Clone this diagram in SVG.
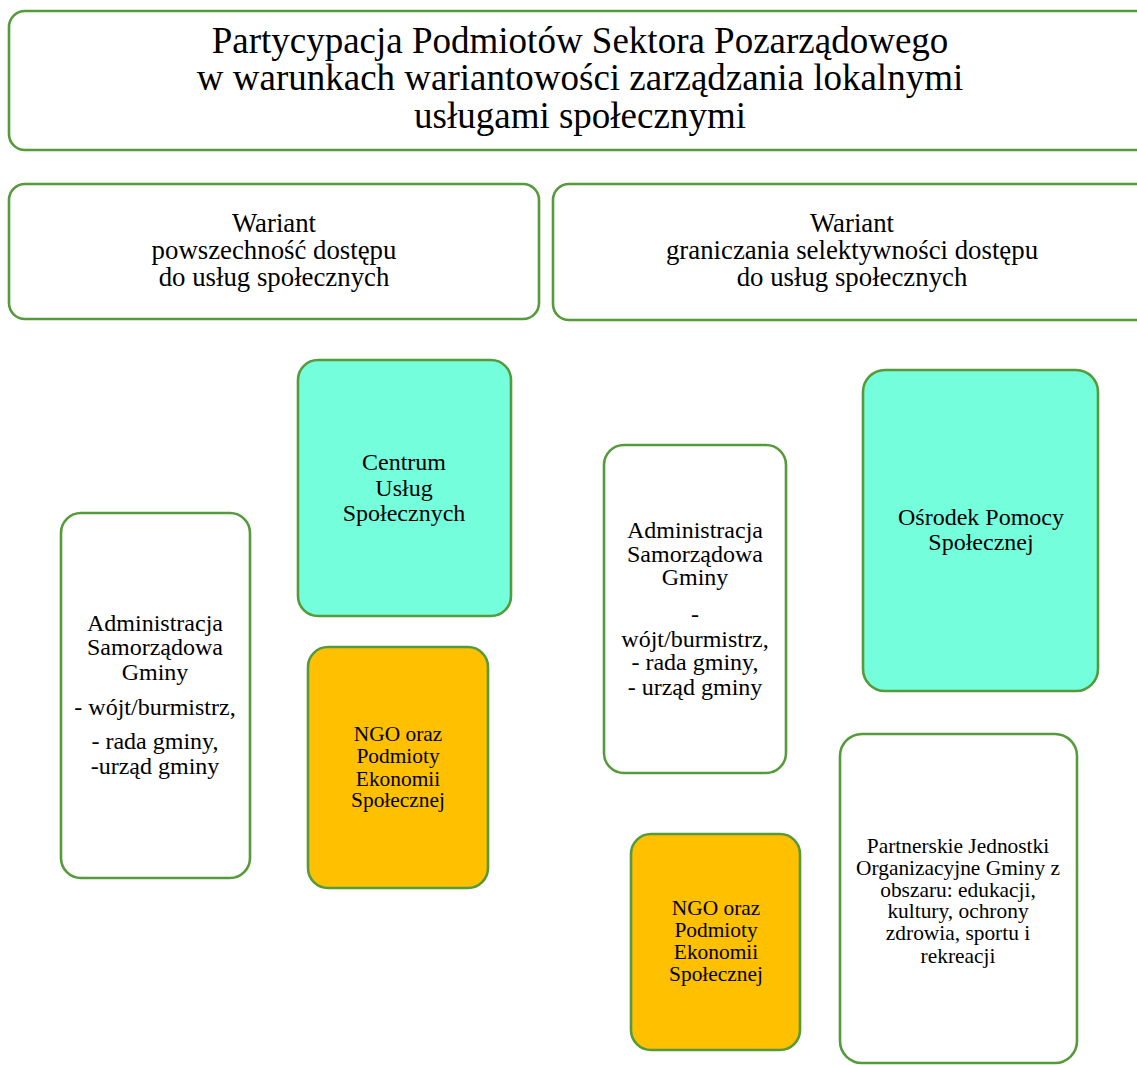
<svg xmlns="http://www.w3.org/2000/svg" width="1137" height="1065" viewBox="0 0 1137 1065">
<style>
.box{stroke:#559a3b;stroke-width:2.6;}
.w{fill:#ffffff;}
.t{fill:#75fedc;}
.o{fill:#ffc000;}
.tx{fill:#000000;text-anchor:middle;font-family:"Liberation Serif","Times New Roman",serif;}
.f37{font-size:37px;}
.f27{font-size:26.8px;}
.f24{font-size:24px;}
.f21{font-size:21.4px;}
</style>
<rect width="1137" height="1065" fill="#ffffff"/>
<g id="connectors"/>
<g class="tx">
<g id="title">
<rect class="box w" x="9" y="11" width="1150" height="139" rx="16"/>
<text class="f37" x="580" y="52.5">Partycypacja Podmiotów Sektora Pozarządowego</text>
<text class="f37" x="580" y="90">w warunkach wariantowości zarządzania lokalnymi</text>
<text class="f37" x="580" y="127.5">usługami społecznymi</text>
</g>
<g id="variant-left">
<rect class="box w" x="9" y="184" width="530" height="135" rx="16"/>
<text class="f27" x="274" y="232">Wariant</text>
<text class="f27" x="274" y="259">powszechność dostępu</text>
<text class="f27" x="274" y="286">do usług społecznych</text>
</g>
<g id="variant-right">
<rect class="box w" x="553" y="184" width="600" height="136" rx="16"/>
<text class="f27" x="852" y="232">Wariant</text>
<text class="f27" x="852" y="259">graniczania selektywności dostępu</text>
<text class="f27" x="852" y="286">do usług społecznych</text>
</g>
<g id="centrum">
<rect class="box t" x="298" y="360" width="213" height="256" rx="20"/>
<text class="f24" x="404" y="470">Centrum</text>
<text class="f24" x="404" y="496">Usług</text>
<text class="f24" x="404" y="521">Społecznych</text>
</g>
<g id="admin-left">
<rect class="box w" x="61" y="513" width="189" height="365" rx="20"/>
<text class="f24" x="155" y="631">Administracja</text>
<text class="f24" x="155" y="655">Samorządowa</text>
<text class="f24" x="155" y="680">Gminy</text>
<text class="f24" x="155" y="715">- wójt/burmistrz,</text>
<text class="f24" x="155" y="749">- rada gminy,</text>
<text class="f24" x="155" y="774">-urząd gminy</text>
</g>
<g id="ngo-left">
<rect class="box o" x="308" y="647" width="180" height="241" rx="20"/>
<text class="f21" x="398" y="741">NGO oraz</text>
<text class="f21" x="398" y="763">Podmioty</text>
<text class="f21" x="398" y="786">Ekonomii</text>
<text class="f21" x="398" y="807">Społecznej</text>
</g>
<g id="admin-right">
<rect class="box w" x="604" y="445" width="182" height="328" rx="20"/>
<text class="f24" x="695" y="538">Administracja</text>
<text class="f24" x="695" y="562">Samorządowa</text>
<text class="f24" x="695" y="585">Gminy</text>
<text class="f24" x="695" y="622">-</text>
<text class="f24" x="695" y="647">wójt/burmistrz,</text>
<text class="f24" x="695" y="670">- rada gminy,</text>
<text class="f24" x="695" y="695">- urząd gminy</text>
</g>
<g id="osrodek">
<rect class="box t" x="863" y="370" width="235" height="321" rx="22"/>
<text class="f24" x="981" y="525">Ośrodek Pomocy</text>
<text class="f24" x="981" y="550">Społecznej</text>
</g>
<g id="ngo-right">
<rect class="box o" x="631" y="834" width="169" height="216" rx="20"/>
<text class="f21" x="716" y="915">NGO oraz</text>
<text class="f21" x="716" y="937">Podmioty</text>
<text class="f21" x="716" y="959">Ekonomii</text>
<text class="f21" x="716" y="981">Społecznej</text>
</g>
<g id="partnerskie">
<rect class="box w" x="840" y="734" width="237" height="329" rx="22"/>
<text class="f21" x="958" y="853">Partnerskie Jednostki</text>
<text class="f21" x="958" y="875">Organizacyjne Gminy z</text>
<text class="f21" x="958" y="897">obszaru: edukacji,</text>
<text class="f21" x="958" y="918">kultury, ochrony</text>
<text class="f21" x="958" y="940">zdrowia, sportu i</text>
<text class="f21" x="958" y="963">rekreacji</text>
</g>
</g>
</svg>
